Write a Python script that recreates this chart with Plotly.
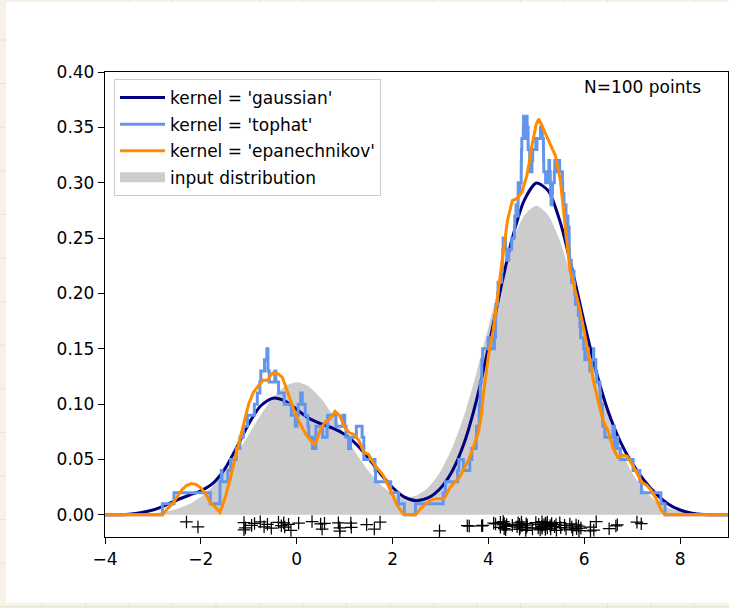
import plotly.graph_objects as go

# ---------------- data ----------------
grid_x = [-5, -4.5, -4, -3.5, -3, -2.75, -2.5, -2.25, -2, -1.75, -1.5, -1.25, -1, -0.75, -0.5,
          -0.25, 0, 0.25, 0.5, 0.75, 1, 1.25, 1.5, 1.75, 2, 2.25, 2.5, 2.75, 3, 3.25, 3.5, 3.75,
          4, 4.25, 4.5, 4.75, 5, 5.25, 5.5, 5.75, 6, 6.25, 6.5, 6.75, 7, 7.25, 7.5, 7.75, 8, 8.25,
          8.5, 8.75, 9, 9.5, 10]

input_density = [0, 0.00001, 0.00004, 0.00026, 0.00133, 0.00273, 0.00526, 0.00952, 0.0162, 0.02588,
                 0.03886, 0.0548, 0.07259, 0.09034, 0.10562, 0.116, 0.11968, 0.116, 0.10562, 0.09034,
                 0.07268, 0.05505, 0.03947, 0.0273, 0.0193, 0.01588, 0.01753, 0.02495, 0.03912, 0.06101,
                 0.09092, 0.12796, 0.16942, 0.2108, 0.24645, 0.27067, 0.27926, 0.27067, 0.24645, 0.2108,
                 0.16938, 0.12786, 0.09066, 0.0604, 0.03779, 0.02222, 0.01227, 0.00636, 0.0031, 0.00142,
                 0.00061, 0.00025, 0.00009, 0.00001, 0]

gaussian_density = [0, 0, 0.00003, 0.0006, 0.0044, 0.0085, 0.0134, 0.0177, 0.0217, 0.0284,
                    0.0415, 0.0611, 0.0823, 0.0985, 0.1054, 0.1030, 0.0952, 0.0874, 0.0823, 0.0784,
                    0.0728, 0.0635, 0.0510, 0.0372, 0.0247, 0.0160, 0.0128, 0.0155, 0.0241, 0.0399,
                    0.0655, 0.1031, 0.1511, 0.2030, 0.2501, 0.2843, 0.2997, 0.2927, 0.2643, 0.2213,
                    0.1736, 0.1294, 0.0934, 0.0664, 0.0465, 0.0311, 0.0189, 0.0099, 0.0044, 0.0015,
                    0.0004, 0.0001, 0, 0, 0]

tophat_x = [-5.0, -2.802, -2.560, -1.802, -1.600, -1.573, -1.560, -1.436, -1.378, -1.261,
            -1.184, -1.112, -1.028, -0.884, -0.822, -0.768, -0.749, -0.672, -0.623, -0.600,
            -0.573, -0.458, -0.436, -0.378, -0.261, -0.112, -0.028, 0.003, 0.030, 0.083,
            0.116, 0.178, 0.232, 0.251, 0.328, 0.365, 0.377, 0.401, 0.542, 0.634,
            0.645, 0.819, 0.962, 1.003, 1.030, 1.083, 1.124, 1.245, 1.365, 1.401,
            1.634, 1.645, 1.962, 2.124, 2.245,
            2.478, 3.056, 3.104, 3.358, 3.383, 3.478, 3.612, 3.655, 3.746, 3.753,
            3.808, 3.813, 3.829, 3.861, 3.863, 3.880, 3.996, 4.056, 4.125, 4.148,
            4.151, 4.156, 4.194, 4.202, 4.278, 4.291, 4.299, 4.308, 4.358, 4.383,
            4.424, 4.487, 4.544, 4.551, 4.577, 4.612, 4.619, 4.620, 4.622, 4.655,
            4.660, 4.685, 4.687, 4.691, 4.698, 4.730, 4.734, 4.746, 4.753, 4.786,
            4.800, 4.808, 4.813, 4.816, 4.829, 4.861, 4.863, 4.878, 4.880, 4.910,
            4.924, 4.989, 4.996, 5.013, 5.087, 5.103, 5.117, 5.125, 5.148, 5.151,
            5.156, 5.194, 5.198, 5.202, 5.242, 5.262, 5.278, 5.291, 5.299, 5.308,
            5.328, 5.339, 5.376, 5.385, 5.424, 5.431, 5.487, 5.544, 5.551, 5.577,
            5.619, 5.620, 5.622, 5.630, 5.632, 5.660, 5.685, 5.687, 5.691, 5.730,
            5.734, 5.753, 5.786, 5.800, 5.816, 5.878, 5.910, 5.924, 5.989, 6.013,
            6.020, 6.087, 6.117, 6.160, 6.193, 6.198, 6.242, 6.262, 6.328, 6.339,
            6.376, 6.385, 6.431, 6.600, 6.630, 6.686, 6.699, 6.753, 7.020, 7.160,
            7.193, 7.600, 7.686, 10.0]

tophat_density = [0.00, 0.01, 0.02, 0.01, 0.03, 0.04, 0.03, 0.04, 0.05, 0.06,
                  0.07, 0.08, 0.09, 0.10, 0.11, 0.12, 0.13, 0.14, 0.15, 0.13,
                  0.12, 0.13, 0.12, 0.11, 0.10, 0.09, 0.08, 0.09, 0.10, 0.11,
                  0.10, 0.09, 0.08, 0.07, 0.06, 0.07, 0.06, 0.08, 0.07, 0.08,
                  0.09, 0.08, 0.09, 0.08, 0.07, 0.06, 0.07, 0.08, 0.07, 0.05,
                  0.04, 0.03, 0.02, 0.01, 0.00,
                  0.01, 0.02, 0.03, 0.04, 0.05, 0.04, 0.05, 0.06, 0.07, 0.08,
                  0.09, 0.10, 0.12, 0.13, 0.14, 0.15, 0.16, 0.15, 0.16, 0.17,
                  0.18, 0.19, 0.20, 0.21, 0.22, 0.23, 0.24, 0.25, 0.24, 0.23,
                  0.24, 0.25, 0.26, 0.27, 0.28, 0.27, 0.28, 0.29, 0.30, 0.29,
                  0.30, 0.31, 0.32, 0.33, 0.34, 0.35, 0.36, 0.35, 0.34, 0.35,
                  0.36, 0.35, 0.34, 0.35, 0.33, 0.32, 0.31, 0.32, 0.31, 0.32,
                  0.33, 0.34, 0.33, 0.34, 0.35, 0.34, 0.35, 0.34, 0.33, 0.32,
                  0.31, 0.30, 0.31, 0.30, 0.31, 0.32, 0.31, 0.30, 0.29, 0.28,
                  0.29, 0.30, 0.31, 0.32, 0.31, 0.32, 0.31, 0.30, 0.29, 0.28,
                  0.27, 0.26, 0.25, 0.26, 0.27, 0.26, 0.25, 0.24, 0.23, 0.22,
                  0.21, 0.22, 0.21, 0.20, 0.19, 0.18, 0.17, 0.16, 0.15, 0.14,
                  0.15, 0.14, 0.13, 0.14, 0.15, 0.14, 0.13, 0.12, 0.11, 0.10,
                  0.09, 0.08, 0.07, 0.08, 0.06, 0.07, 0.06, 0.05, 0.04, 0.03,
                  0.02, 0.01, 0.00, 0.00]

epan_x = [-5.0, -2.80, -2.7, -2.6, -2.5, -2.4, -2.3, -2.2, -2.1, -2.0, -1.9, -1.8, -1.7, -1.6,
          -1.5, -1.4, -1.3, -1.2, -1.1, -1.0, -0.9, -0.8, -0.7, -0.6, -0.55, -0.5, -0.4, -0.3,
          -0.2, -0.1, 0.0, 0.1, 0.2, 0.3, 0.37, 0.4, 0.5, 0.6, 0.7, 0.8, 0.9, 1.0, 1.1, 1.2, 1.3,
          1.4, 1.5, 1.6, 1.7, 1.8, 1.9, 2.0, 2.1, 2.2, 2.245, 2.478, 2.6, 2.7, 2.8, 2.9, 3.0, 3.06,
          3.1, 3.2, 3.3, 3.4, 3.5, 3.6, 3.7, 3.8, 3.85, 3.9, 4.0, 4.1, 4.2, 4.3, 4.4, 4.5, 4.6,
          4.7, 4.8, 4.85, 4.9, 5.0, 5.05, 5.1, 5.2, 5.3, 5.4, 5.5, 5.6, 5.7, 5.8, 5.9, 6.0, 6.1,
          6.2, 6.3, 6.4, 6.5, 6.6, 6.7, 6.8, 6.9, 7.0, 7.1, 7.2, 7.3, 7.4, 7.5, 7.6, 7.686, 10.0]

epan_density = [0, 0, 0.0054, 0.0096, 0.0160, 0.0225, 0.0265, 0.0282, 0.0275, 0.0244, 0.0189,
                0.0109, 0.0072, 0.0023, 0.0147, 0.0300, 0.0487, 0.0660, 0.0836, 0.1004, 0.1110,
                0.1164, 0.1217, 0.1215, 0.1257, 0.1280, 0.1278, 0.1242, 0.1124, 0.1011, 0.0882,
                0.0801, 0.0722, 0.0668, 0.0637, 0.0650, 0.0775, 0.0842, 0.0870, 0.0935, 0.0894,
                0.0791, 0.0741, 0.0725, 0.0671, 0.0565, 0.0546, 0.0467, 0.0411, 0.0359, 0.0272,
                0.0173, 0.0084, 0.0023, 0, 0, 0.0063, 0.0103, 0.0131, 0.0146, 0.0150, 0.0146,
                0.0164, 0.0247, 0.0294, 0.0340, 0.0427, 0.0511, 0.0625, 0.0761, 0.0894, 0.1099,
                0.1434, 0.1667, 0.2005, 0.2347, 0.2663, 0.2838, 0.2858, 0.2915, 0.3062, 0.3174,
                0.3321, 0.3531, 0.3576, 0.3531, 0.3432, 0.3332, 0.3243, 0.3028, 0.2603, 0.2214,
                0.2046, 0.1873, 0.1656, 0.1435, 0.1194, 0.1011, 0.0843, 0.0757, 0.0605, 0.0518,
                0.0539, 0.0528, 0.0457, 0.0378, 0.0294, 0.0269, 0.0220, 0.0146, 0.0049, 0, 0]

points_x = [-2.30, -2.06, -1.10, -1.10, -1.07, -0.94, -0.88, -0.76, -0.68, -0.61,
            -0.53, -0.38, -0.32, -0.27, -0.25, -0.17, -0.12, 0.04, 0.32, 0.50,
            0.53, 0.58, 0.87, 0.90, 0.90, 1.13, 1.14, 1.46, 1.62, 1.74,
            2.98, 3.56, 3.60, 3.86, 3.88, 4.11, 4.15, 4.25, 4.25, 4.31,
            4.31, 4.33, 4.33, 4.36, 4.36, 4.38, 4.50, 4.60, 4.62, 4.65,
            4.65, 4.66, 4.69, 4.70, 4.78, 4.79, 4.80, 4.81, 4.92, 4.99,
            5.04, 5.05, 5.08, 5.12, 5.12, 5.12, 5.16, 5.19, 5.19, 5.19,
            5.20, 5.23, 5.23, 5.29, 5.30, 5.32, 5.38, 5.41, 5.42, 5.49,
            5.51, 5.59, 5.62, 5.70, 5.74, 5.76, 5.83, 5.84, 5.88, 5.89,
            5.93, 6.13, 6.13, 6.20, 6.25, 6.52, 6.66, 6.69, 7.10, 7.19]

points_y = [-0.0064, -0.0109, -0.0070, -0.0135, -0.0118, -0.0095, -0.0078, -0.0063, -0.0108, -0.0085,
            -0.0120, -0.0068, -0.0098, -0.0072, -0.0110, -0.0086, -0.0140, -0.0075, -0.0060, -0.0082,
            -0.0128, -0.0076, -0.0072, -0.0118, -0.0146, -0.0074, -0.0112, -0.0088, -0.0128, -0.0066,
            -0.0145, -0.0098, -0.0102, -0.0099, -0.0096, -0.0075, -0.0082, -0.0068, -0.0112, -0.0060,
            -0.0090, -0.0125, -0.0078, -0.0105, -0.0135, -0.0088, -0.0095, -0.0108, -0.0072, -0.0130,
            -0.0085, -0.0117, -0.0064, -0.0099, -0.0140, -0.0080, -0.0112, -0.0093, -0.0127, -0.0070,
            -0.0118, -0.0086, -0.0136, -0.0062, -0.0103, -0.0121, -0.0090, -0.0073, -0.0131, -0.0109,
            -0.0084, -0.0066, -0.0119, -0.0097, -0.0127, -0.0079, -0.0106, -0.0088, -0.0139, -0.0071,
            -0.0115, -0.0094, -0.0128, -0.0082, -0.0110, -0.0136, -0.0091, -0.0124, -0.0102, -0.0143,
            -0.0120, -0.0145, -0.0110, -0.0138, -0.0062, -0.0125, -0.0100, -0.0090, -0.0066, -0.0080]

x_ticks = [-4, -2, 0, 2, 4, 6, 8]
x_tick_labels = ["\u22124", "\u22122", "0", "2", "4", "6", "8"]
y_ticks = [0.0, 0.05, 0.10, 0.15, 0.20, 0.25, 0.30, 0.35, 0.40]
y_tick_labels = ["0.00", "0.05", "0.10", "0.15", "0.20", "0.25", "0.30", "0.35", "0.40"]

series_names = ["kernel = 'gaussian'", "kernel = 'tophat'", "kernel = 'epanechnikov'", "input distribution"]
annotation_text = "N=100 points"

# ---------------- figure ----------------
FONT = "DejaVu Sans"
FS = 17

fig = go.Figure()
fig.add_trace(go.Scatter(x=grid_x, y=input_density, mode="lines",
                         line=dict(width=0, shape="spline", smoothing=0.7),
                         fill="tozeroy", fillcolor="#cccccc", showlegend=False, hoverinfo="skip"))
fig.add_trace(go.Scatter(x=grid_x, y=gaussian_density, mode="lines",
                         line=dict(color="#000080", width=3, shape="spline", smoothing=0.7),
                         name=series_names[0], legendrank=1, legendgroup="g1"))
fig.add_trace(go.Scatter(x=tophat_x, y=tophat_density, mode="lines",
                         line=dict(color="#6495ED", width=3, shape="hv"),
                         name=series_names[1], legendrank=2, legendgroup="g2"))
fig.add_trace(go.Scatter(x=epan_x, y=epan_density, mode="lines",
                         line=dict(color="#FF8C00", width=3),
                         name=series_names[2], legendrank=3, legendgroup="g3"))
fig.add_trace(go.Scatter(x=[None], y=[None], mode="lines",
                         line=dict(color="#cccccc", width=12),
                         name=series_names[3], legendrank=4, legendgroup="g4"))
fig.add_trace(go.Scatter(x=points_x, y=points_y, mode="markers",
                         marker=dict(symbol="cross-thin", size=9, color="black",
                                     line=dict(color="black", width=1.25)),
                         showlegend=False, hoverinfo="skip"))

# background: cream page with faint grid, white figure card
L, T, W, H = 105, 72, 623, 465
def px(xp):
    return (xp - L) / W
def py(yp):
    return (T + H - yp) / H

shapes = []
grid_col = "#e7e2cf"
for k in range(17):
    xv = 42 + 43.5 * k
    shapes.append(dict(type="line", xref="paper", yref="paper", x0=px(xv), x1=px(xv),
                       y0=py(0), y1=py(608), line=dict(color=grid_col, width=1), layer="below"))
for k in range(14):
    yv = 40 + 43.6 * k
    shapes.append(dict(type="line", xref="paper", yref="paper", x0=px(0), x1=px(729),
                       y0=py(yv), y1=py(yv), line=dict(color=grid_col, width=1), layer="below"))
shapes.append(dict(type="rect", xref="paper", yref="paper", x0=px(6), x1=px(740),
                   y0=py(603), y1=py(2), fillcolor="white", line=dict(width=0), layer="below"))

axis_common = dict(ticks="outside", ticklen=6, tickwidth=1.3, tickcolor="black",
                   showline=True, linecolor="black", linewidth=1.3, mirror=True,
                   showgrid=False, zeroline=False,
                   tickfont=dict(family=FONT, size=FS, color="black"))

fig.update_layout(
    width=729, height=608,
    margin=dict(l=L, r=729 - L - W, t=T, b=608 - T - H),
    paper_bgcolor="#f6f3e6",
    plot_bgcolor="white",
    font=dict(family=FONT, size=FS, color="black"),
    shapes=shapes,
    showlegend=True,
    legend=dict(x=px(114), y=py(79), xanchor="left", yanchor="top",
                bgcolor="rgba(255,255,255,0.8)", bordercolor="#cccccc", borderwidth=1,
                font=dict(family=FONT, size=FS, color="black"),
                traceorder="grouped", tracegroupgap=1.5, itemwidth=45),
    xaxis=dict(range=[-4, 9], tickvals=x_ticks, ticktext=x_tick_labels, **axis_common),
    yaxis=dict(range=[-0.02, 0.4], tickvals=y_ticks, ticktext=y_tick_labels,
               ticklabelstandoff=0, **axis_common),
    annotations=[dict(x=6, y=0.38, xref="x", yref="y", text=annotation_text, showarrow=False,
                      xanchor="left", yanchor="bottom", yshift=-5, xshift=-2,
                      font=dict(family=FONT, size=FS, color="black"))],
)

fig.write_html("out.html", config={"displayModeBar": False},
               post_script="document.body.style.margin='0';")
